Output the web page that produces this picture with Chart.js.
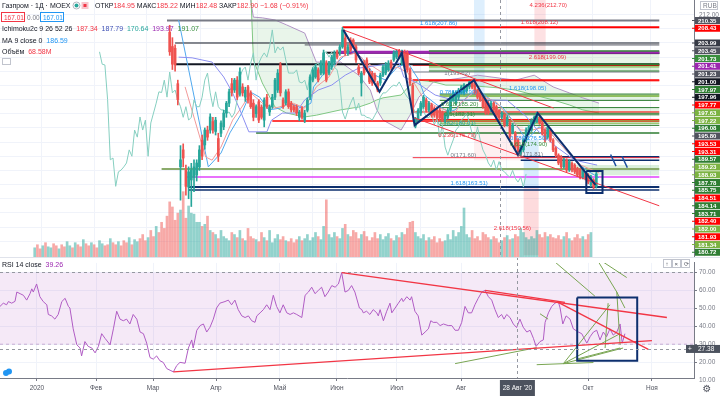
<!DOCTYPE html>
<html>
<head>
<meta charset="utf-8">
<script src="https://cdn.jsdelivr.net/npm/chart.js@4.4.1/dist/chart.umd.min.js"></script>
<style>
  body { margin: 0; background: #fff; width: 720px; height: 397px; overflow: hidden; position: relative; }
  canvas { position: absolute; left: 0; }
  #main { top: 0; }
  #rsi { top: 257px; }
</style>
</head>
<body>
<canvas id="main" width="720" height="257"></canvas>
<canvas id="rsi" width="720" height="140"></canvas>
<script>
const FONT = '"Liberation Sans", Arial, sans-serif';
const UP = "#26a69a";
const DOWN = "#ef5350";
const XMAX = 231.33;

// time axis (bar index -> month label)
const monthIdx = [12.3, 32, 51, 72, 93.3, 112.3, 132.3, 153.7, 196, 217.3];
const monthLbl = ["2020", "Фев", "Мар", "Апр", "Май", "Июн", "Июл", "Авг", "Окт", "Ноя"];
const hoverIdx = 172.3;

// daily candles [open, high, low, close], first one at bar index START
const START = 50;
const candles = [
  [207.0, 209.0, 200.5, 201.5], [203.0, 205.5, 196.5, 198.0], [202.5, 203.5, 196.0, 197.8], [192.5, 193.5, 186.5, 188.0],
  [169.0, 175.0, 159.6, 171.0], [173.8, 175.5, 169.0, 171.5], [168.0, 169.5, 161.0, 163.5], [163.3, 169.0, 160.0, 167.6],
  [165.3, 170.0, 157.8, 168.1], [166.0, 171.0, 162.0, 169.0], [166.7, 171.0, 165.0, 170.1], [169.0, 175.0, 168.0, 173.8],
  [176.5, 178.0, 171.0, 172.0], [175.2, 180.0, 174.0, 179.4], [179.4, 180.5, 176.5, 177.4], [179.4, 184.0, 178.5, 183.1],
  [181.8, 183.0, 178.5, 179.4], [179.0, 183.0, 178.0, 182.2], [177.0, 178.5, 170.5, 172.0], [178.5, 182.0, 177.5, 181.4],
  [180.3, 185.0, 179.5, 184.2], [184.2, 187.5, 183.0, 187.0], [187.0, 191.0, 186.0, 190.2], [192.5, 194.0, 189.0, 190.0],
  [190.7, 194.0, 190.0, 193.5], [193.5, 194.5, 188.0, 188.7], [189.5, 197.0, 189.0, 195.8], [191.6, 192.5, 189.0, 189.9],
  [188.7, 191.5, 187.5, 190.7], [191.6, 192.0, 187.0, 187.9], [189.9, 190.5, 185.5, 186.0], [187.0, 188.0, 182.0, 183.0],
  [184.0, 186.5, 183.0, 186.0], [187.4, 188.0, 181.5, 182.2], [185.9, 186.5, 182.5, 183.0], [182.2, 188.5, 180.3, 187.9],
  [188.7, 189.5, 185.5, 186.0], [184.5, 186.5, 183.5, 186.0], [186.0, 189.5, 185.5, 188.7], [188.7, 194.0, 188.0, 193.5],
  [190.7, 196.5, 190.0, 195.5], [197.8, 198.5, 189.0, 189.9], [187.9, 188.5, 185.5, 186.0], [187.0, 190.8, 186.5, 190.2],
  [190.2, 191.0, 185.5, 186.0], [187.0, 187.5, 184.5, 185.1], [186.0, 186.5, 184.5, 185.1], [186.0, 186.5, 183.5, 184.2],
  [183.0, 185.0, 182.0, 184.5], [185.5, 186.0, 182.5, 183.0], [182.2, 185.0, 181.5, 184.2], [185.0, 188.5, 184.5, 187.9],
  [188.7, 195.0, 188.0, 194.4], [193.5, 197.0, 193.0, 196.4], [194.4, 198.0, 194.0, 197.2], [196.4, 197.0, 193.0, 193.5],
  [195.5, 199.0, 195.0, 198.3], [195.5, 202.0, 195.0, 201.2], [198.3, 199.0, 193.0, 193.5], [195.5, 198.8, 195.0, 198.3],
  [197.2, 200.5, 196.5, 200.0], [198.6, 201.8, 198.0, 201.2], [201.5, 202.0, 199.5, 200.0], [201.2, 203.5, 200.5, 202.9],
  [202.9, 208.4, 202.5, 207.7], [205.4, 206.5, 200.5, 201.2], [201.2, 203.5, 200.5, 202.9], [204.8, 205.5, 201.5, 202.0],
  [204.8, 205.2, 202.5, 202.9], [202.9, 203.5, 198.5, 199.2], [197.2, 198.0, 195.0, 195.5], [192.7, 196.0, 189.0, 195.5],
  [198.3, 199.0, 195.0, 195.5], [199.2, 199.8, 196.0, 196.4], [196.0, 196.8, 192.5, 193.0], [195.5, 196.0, 192.0, 192.7],
  [194.9, 195.5, 193.0, 193.5], [192.7, 193.2, 190.2, 190.7], [192.7, 195.5, 192.0, 194.9], [194.9, 197.8, 194.5, 197.2],
  [195.5, 198.5, 195.0, 197.8], [196.4, 199.0, 196.0, 198.3], [198.6, 199.2, 196.5, 197.0], [199.2, 201.8, 198.8, 201.2],
  [200.0, 202.0, 199.5, 201.5], [201.5, 202.2, 199.5, 200.0], [198.3, 202.0, 197.8, 201.5], [201.2, 202.0, 196.8, 197.2],
  [201.2, 201.8, 195.8, 196.4], [196.4, 197.0, 192.0, 192.7], [192.0, 192.7, 183.8, 184.5], [180.5, 183.0, 180.0, 182.5],
  [182.2, 185.5, 181.5, 185.0], [184.2, 187.5, 183.5, 187.0], [186.0, 189.2, 185.5, 188.7], [187.9, 188.5, 184.5, 185.0],
  [185.0, 187.5, 184.5, 187.0], [186.5, 187.0, 183.0, 183.6], [185.5, 186.0, 183.0, 183.6], [185.0, 185.5, 182.5, 183.0],
  [185.0, 185.5, 182.3, 182.8], [184.2, 184.8, 181.8, 182.2], [182.2, 184.0, 181.5, 183.6], [183.0, 185.5, 182.5, 185.0],
  [185.0, 189.2, 184.5, 188.7], [187.9, 190.5, 187.5, 189.9], [187.0, 190.5, 186.5, 189.9], [188.7, 191.2, 188.0, 190.7],
  [189.9, 192.0, 189.5, 191.6], [189.9, 192.5, 189.3, 192.1], [190.5, 192.3, 190.0, 191.8], [191.6, 193.2, 191.0, 193.0],
  [193.0, 193.6, 191.0, 191.5], [192.7, 193.0, 189.5, 189.9], [190.7, 191.0, 188.2, 188.7], [189.9, 190.3, 187.5, 187.9],
  [188.7, 189.2, 185.5, 186.0], [187.9, 188.3, 183.8, 184.2], [187.0, 187.5, 183.8, 184.2], [185.0, 187.5, 184.5, 187.0],
  [187.0, 187.3, 184.6, 185.0], [186.0, 186.5, 182.6, 183.0], [184.95, 185.22, 182.48, 182.90], [183.0, 184.6, 182.5, 184.2],
  [183.6, 184.0, 180.3, 180.8], [181.0, 183.5, 180.5, 183.0], [181.4, 181.8, 176.8, 177.4], [178.8, 181.3, 178.3, 180.8],
  [178.5, 179.0, 174.0, 174.6], [176.6, 177.0, 172.0, 172.3], [172.6, 175.0, 172.0, 174.6], [173.8, 177.0, 173.3, 176.6],
  [176.6, 180.0, 176.0, 179.4], [178.5, 180.8, 178.0, 180.3], [179.4, 182.6, 179.0, 182.2], [181.4, 183.4, 181.0, 183.0],
  [181.8, 184.5, 181.5, 184.2], [183.0, 183.5, 181.0, 181.4], [181.4, 181.8, 178.0, 178.5], [179.4, 179.8, 176.0, 176.6],
  [177.4, 180.8, 177.0, 180.3], [179.4, 179.8, 176.0, 176.6], [176.6, 177.0, 173.3, 173.8], [174.3, 174.7, 171.8, 172.3],
  [172.3, 172.7, 169.6, 170.1], [171.8, 172.2, 168.5, 169.0], [169.0, 171.4, 168.6, 170.9], [170.9, 171.3, 167.6, 168.1],
  [168.1, 171.0, 167.7, 170.5], [170.0, 170.4, 167.6, 168.1], [169.5, 169.9, 167.1, 167.6], [168.5, 168.9, 166.2, 166.7],
  [168.1, 168.5, 165.6, 166.1], [166.1, 168.4, 165.6, 168.0], [167.2, 167.6, 165.3, 165.8], [166.7, 167.1, 164.2, 164.7],
  [163.9, 166.6, 163.4, 166.1], [165.3, 165.7, 162.8, 163.3], [163.5, 167.5, 163.0, 167.0]
];

// volume in millions from bar index 0, and bar direction for bars before START
const volumes = [
  45, 60, 40, 55, 70, 50, 45, 65, 55, 40, 60, 50, 75, 55, 45, 70, 60, 50, 85, 65,
  55, 70, 60, 45, 80, 65, 55, 60, 90, 70, 60, 75, 55, 80, 70, 95, 60, 85, 75, 90,
  110, 80, 95, 130, 100, 150, 120, 170, 140, 200, 270, 245, 180, 215, 230, 320, 190, 250, 215, 210,
  170, 170, 150, 160, 200, 130, 120, 110, 90, 130, 100, 90, 80, 120, 110, 95, 130, 90, 80, 140,
  100, 90, 85, 75, 120, 95, 80, 130, 70, 90, 110, 85, 100, 80, 75, 90, 70, 85, 100, 80,
  90, 110, 80, 95, 120, 100, 85, 150, 280, 110, 95, 120, 100, 90, 140, 160, 110, 100, 130, 120,
  90, 110, 125, 100, 80, 95, 120, 90, 110, 85, 100, 115, 90, 80, 105, 95, 120, 110, 140, 170,
  175, 120, 100, 90, 110, 80, 95, 85, 100, 70, 90, 75, 80, 110, 85, 130, 100, 120, 150, 240,
  110, 95, 130, 90, 100, 80, 120, 110, 95, 85, 100, 90, 70, 80, 95, 105, 85, 90, 110, 100,
  140, 120, 95, 85, 100, 90, 130, 110, 95, 120, 100, 110, 95, 90, 105, 85, 100, 120, 90, 80,
  95, 110, 90, 100, 85, 110, 120
];
const earlyDir = "udduduuddudduududduddudduuddudduddduduudddudduddd";

// indicator lines: [bar index, price]
const maIdx = [53.3, 64.3, 69, 72.3, 76.7, 80, 83.3, 86.7, 91, 94.3, 99, 102.3, 103.3, 106.7, 112.3, 116.7, 121, 125.7, 130, 134.3, 138.3, 142.3, 144.3, 149, 153.3, 155.7, 160, 164.3, 169, 173.3, 177.7, 182.3, 186.7, 191, 195.7, 200, 204.3, 209];
const maVal = [210.5, 169.0, 172.9, 178.6, 184.2, 190.1, 188.7, 185.1, 185.6, 187.0, 185.6, 187.0, 191.6, 195.0, 198.6, 202.0, 200.0, 195.0, 193.5, 197.2, 198.3, 193.5, 189.3, 186.5, 184.5, 185.1, 188.7, 190.7, 187.9, 185.8, 181.4, 176.6, 180.3, 178.6, 174.6, 170.9, 168.1, 165.9];
const tenkanIdx = [55.7, 63.3, 65.7, 69, 73.3, 76.7, 80, 84.3, 89, 95.7, 100, 104.3, 109, 113.3, 119, 123.3, 129, 134.3, 138.3, 141, 144.3, 150, 155.7, 157.7, 162.3, 166.7, 171, 175.7, 180, 184.3, 189, 193.3, 197.7, 202.3, 209];
const tenkanVal = [191.6, 171.8, 170.9, 174.6, 182.2, 185.9, 189.9, 187.0, 185.6, 187.0, 185.6, 191.6, 194.4, 200.0, 201.2, 198.3, 195.5, 197.2, 195.5, 192.1, 187.9, 185.6, 184.2, 187.0, 189.9, 188.7, 187.3, 183.1, 179.4, 179.4, 180.3, 176.6, 172.9, 169.5, 167.3];
const kijunIdx = [53.3, 58.3, 65.7, 70, 73.3, 76, 79.3, 86, 87.7, 91.7, 96.7, 100, 105, 110, 115, 120, 128.3, 135, 136.7, 141.7, 148.3, 155, 160, 166.7, 175, 181.7, 186.7, 193.3, 200, 208.3];
const kijunVal = [200.0, 199.8, 198.6, 194.4, 189.9, 185.1, 178.9, 178.9, 182.2, 184.2, 184.2, 187.9, 190.7, 192.1, 194.9, 196.9, 197.8, 198.3, 194.4, 192.7, 189.3, 187.9, 187.9, 187.9, 187.8, 183.5, 178.9, 174.6, 170.9, 169.5];
const cloudIdx = [80, 81, 84.3, 89, 93.3, 100, 104.3, 113.3, 120, 124.3, 126.7, 129, 135.7, 139, 142.3, 147.7, 152.3, 158, 164, 172, 178, 185, 192, 198, 203, 209];
const leadA = [219, 199.2, 192.7, 185.9, 184.2, 183.1, 183.6, 185.1, 185.9, 187.0, 187.9, 188.5, 189.3, 192.1, 193.5, 193.0, 192.1, 192.1, 191.8, 191.3, 190.7, 189.3, 187.9, 186.5, 185.1, 184.2];
const leadB = [216.1, 211.3, 211.1, 210.5, 209.1, 206.8, 198.6, 198.6, 194.9, 190.7, 185.1, 182.2, 179.4, 183.6, 188.7, 193.0, 193.5, 194.1, 194.9, 194.1, 193.5, 194.9, 191.6, 189.9, 188.5, 187.0];

// horizontal levels: price, starting bar, colour, width
const hlPrice = [210.35, 208.43, 203.99, 203.45, 201.73, 201.41, 201.23, 201.00, 197.97, 197.96, 197.77, 197.63, 197.22, 196.08, 195.80, 193.53, 193.31, 189.57, 189.23, 188.93, 187.78, 185.75, 184.51, 184.14, 183.71, 182.40, 182.00, 181.93, 181.34, 180.72, 178.60, 171.60, 171.80, 170.90, 168.40, 166.14, 163.30, 162.50];
const hlFrom = [49, 114, 52, 100, 146, 113, 108, 146, 146, 52, 140, 146, 146, 146, 140, 140, 146, 150, 150, 150, 150, 150, 140, 150, 150, 140, 150, 88, 150, 150, 82, 140, 180, 180, 47, 56, 57, 57];
const hlColor = ["#787b86", "#ff0000", "#131722", "#50535e", "#388e3c", "#9c27b0", "#131722", "#131722", "#2e7d32", "#131722", "#ff0000", "#7cb342", "#7cb342", "#2e7d32", "#787b86", "#ff0000", "#ff0000", "#2e7d32", "#7cb342", "#7cb342", "#2e7d32", "#2e7d32", "#ff0000", "#2e7d32", "#2e7d32", "#ff0000", "#7cb342", "#ff0000", "#7cb342", "#2e7d32", "#2e7d32", "#f23645", "#0d2f6e", "#0d2f6e", "#8bab6b", "#e040fb", "#0d2f6e", "#0d2f6e"];
const hlWidth = [2, 2, 1, 1, 1.5, 3, 2, 1, 1.5, 2, 1.5, 1.5, 1, 1, 1, 1.5, 1, 1, 1, 1, 1, 1, 1, 1, 1, 1, 1, 1.5, 1, 1, 1.5, 1, 2, 1.5, 2, 1.5, 2, 1.5];

// price tags on the right scale (first 30 levels)
const tagCount = 30;
const tagBg = ["#50535e", "#ff0000", "#363a45", "#50535e", "#388e3c", "#9c27b0", "#50535e", "#131722", "#2e7d32", "#131722", "#ff0000", "#7cb342", "#7cb342", "#2e7d32", "#50535e", "#ff0000", "#ff0000", "#2e7d32", "#7cb342", "#7cb342", "#2e7d32", "#2e7d32", "#ff0000", "#2e7d32", "#2e7d32", "#ff0000", "#7cb342", "#ff0000", "#7cb342", "#2e7d32"];

// zigzag, trend lines and boxes
const zigIdx = [114.3, 127.7, 136, 140.7, 162.7, 179, 186.3, 207.7];
const zigVal = [207.7, 190.2, 201.2, 180.8, 193.5, 172.4, 184.2, 163.9];
const redTopIdx = [114.3, 192.2], redTopVal = [207.7, 185.6];
const redLowIdx = [140, 231.3], redLowVal = [183.0, 158.0];
const boxIdx = [204.3, 210.3], boxVal = [167.8, 161.6];
const arrowIdx = [[213.3, 215.3], [217.5, 219.5]], arrowVal = [[172.5, 169.2], [172.0, 168.8]];

// shaded zones: from bar, to bar, top price, bottom price, colour
const zoneFrom = [162.7, 185, 181, 181, 162.7, 146, 146, 150, 150, 150, 200];
const zoneTo = [166.7, 189.3, 186.7, 186.7, 181, XMAX, XMAX, XMAX, XMAX, XMAX, XMAX];
const zoneTop = [216.2, 216.2, 176.6, 163.3, 180.8, 201.73, 197.63, 189.57, 185.75, 182.00, 169.5];
const zoneBot = [189.3, 199.2, 163.3, 144.0, 170.9, 197.97, 196.08, 187.78, 183.71, 180.72, 166.6];
const zoneColor = ["rgba(33,150,243,0.15)", "rgba(242,54,69,0.15)", "rgba(33,150,243,0.18)", "rgba(242,54,69,0.18)", "rgba(242,54,69,0.08)",
  "rgba(76,175,80,0.13)", "rgba(76,175,80,0.2)", "rgba(76,175,80,0.15)", "rgba(76,175,80,0.15)", "rgba(76,175,80,0.15)", "rgba(76,175,80,0.2)"];

// fib labels
const fibText = ["4.236(212.70)", "1.618(208.12)", "1.618(207.86)", "2.618(199.09)", "1(193.62)", "1.618(198.05)", "0.786(188.90)", "0.618(185.20)",
  "0.5(182.61)", "0.382(180.01)", "0.236(176.79)", "0(171.60)", "0.786(176.50)", "0.618(174.90)", "1(171.81)", "1.618(163.51)", "2.618(150.56)"];
const fibIdx = [183.3, 180, 142.7, 183, 151.7, 175.7, 150, 150.5, 151.7, 149.5, 149.5, 154, 176, 176, 178.7, 154, 170];
const fibVal = [214.2, 209.4, 209.1, 199.5, 194.9, 190.7, 189.5, 186.0, 183.3, 180.6, 177.4, 171.6, 176.6, 174.9, 171.9, 163.9, 151.2];
const fibColor = ["#f23645", "#f23645", "#2196f3", "#f23645", "#787b86", "#2196f3", "#2196f3", "#388e3c", "#388e3c", "#26a69a", "#f23645", "#787b86",
  "#2196f3", "#388e3c", "#787b86", "#2196f3", "#f23645"];

// RSI (14)
const rsiIdx = [0, 1.1, 2.2, 2.8, 3.9, 5, 5.6, 6.7, 7.8, 8.9, 10, 10.6, 11.1, 12.2, 13.3, 14.4, 15.6, 16.1, 17.2, 18.3, 19.4, 20.6, 21.7, 22.8, 23.3, 24.4, 25.6, 26.7, 27.2, 28.3, 29.4, 30.6, 31.7, 32.8, 33.9, 35, 36.7, 37.8, 38.9, 40, 41.1, 42.2, 43.3, 44.4, 45.6, 46.7, 47.8, 48.9, 50, 51.1, 52.2, 53.3, 54.4, 55.6, 56.7, 57.8, 58.9, 60, 61.7, 62.8, 63.9, 64.4, 65.6, 66.7, 67.8, 68.9, 70, 71.1, 72.2, 73.3, 75, 76.1, 77.2, 78.3, 79.4, 80.6, 81.7, 82.8, 83.9, 85, 85.6, 86.7, 87.8, 88.9, 90, 91.1, 92.2, 93.3, 94.4, 95.6, 96.7, 97.8, 98.9, 100.6, 101.7, 102.8, 103.9, 105, 106.1, 107.2, 108.3, 109.4, 110.6, 111.7, 112.8, 113.9, 115, 116.1, 117.2, 118.3, 119.8, 120.6, 121.1, 122.2, 123.3, 124.4, 125.6, 126.1, 126.7, 127.8, 128.9, 130, 130.6, 131.7, 132.8, 133.9, 134.4, 135.6, 136.7, 137.2, 138.3, 139.4, 140.6, 141.7, 142.8, 143.6, 144.4, 145.6, 146.7, 147.8, 149.4, 150.6, 151.7, 152.8, 153.9, 155, 156.1, 157.2, 158.3, 159.4, 160.6, 161.7, 162.8, 163.9, 165, 166.1, 167.2, 168, 168.9, 170, 171.1, 172.2, 173.3, 174.4, 175.6, 176.7, 177.8, 178.7, 180, 181.1, 181.7, 182.8, 183.9, 185, 186.1, 186.7, 187.6, 188.7, 190, 191.1, 192.8, 193.9, 195.6, 196.7, 197.8, 198.9, 200, 201.1, 202.2, 203.3, 204.4, 205.6, 206.7, 207.4, 208.3];
const rsiVal = [51.1, 52.9, 52, 53.8, 52.9, 53.9, 59.1, 58.2, 57.3, 54.6, 58.2, 60.9, 59.1, 63.6, 56.5, 53.8, 52, 46.6, 45.8, 44, 46.6, 53.8, 55.6, 51.1, 50.2, 38.6, 29.7, 27.9, 23.5, 31.5, 28.8, 27.9, 25.2, 28.8, 35.9, 33.3, 29.7, 38.6, 48.4, 44, 43.1, 44, 41.3, 46.6, 44, 36.8, 35.9, 30.6, 22.6, 21.7, 23.5, 20.8, 19.9, 16.4, 15.5, 14.6, 18.1, 19.9, 19.4, 27.9, 32.4, 27.9, 37.8, 40.4, 41.3, 36.8, 39.5, 44, 50.2, 52.9, 53.8, 54.6, 52, 54.6, 49.3, 45.8, 44.9, 45.8, 43.1, 42.2, 45.8, 47.5, 49.3, 52, 49.3, 57.3, 51.1, 47.5, 52, 47.5, 46.6, 47.5, 46.6, 44.9, 57.3, 59.1, 61.8, 58.2, 60, 61.8, 56.5, 59.1, 62.7, 61.8, 63.6, 69.9, 59.1, 60, 62.7, 59.1, 50.2, 49.3, 47.5, 48.4, 46.6, 49.3, 47.5, 45.8, 49.3, 43.1, 48.4, 52.9, 47.5, 50.2, 52.9, 55.6, 53.8, 56.5, 54.6, 56.5, 48.4, 45.8, 35.1, 36.8, 38.6, 43.1, 42.2, 42.2, 40.4, 41.3, 40.4, 40.4, 37.8, 37.8, 42.2, 51.1, 47.5, 47.5, 52, 55.6, 59.1, 60, 56.5, 54.6, 49.3, 44.9, 46.6, 44, 46.6, 44.9, 41.3, 39.3, 44, 39.5, 36.8, 37.8, 33.3, 28.8, 31.5, 32.4, 42.2, 47.5, 51.1, 52.9, 53.8, 50.2, 41.3, 45.8, 44, 38.6, 36.8, 35.9, 30.6, 34.2, 36.8, 37.8, 32.4, 36.8, 34.2, 38.6, 35.1, 36.8, 41.3, 30.6, 35.9];
const rsiRedIdx = [[113.9, 222.3], [161.7, 188.3], [185.6, 216.1], [57.8, 217.3]];
const rsiRedVal = [[69.9, 44.9], [60.0, 53.3], [53.8, 27.1], [14.6, 32.0]];
const rsiGreenIdx = [[151.7, 178.9], [178.9, 197.8], [187.8, 203.3], [187.8, 206.7], [187.8, 207.7], [192.2, 206.7], [184.2, 198.3], [199.1, 205.6, 208.3], [200, 208.9], [202.7, 201.7], [205.6, 206.7], [180, 182.7]];
const rsiGreenVal = [[19.2, 28.1], [18.6, 19.8], [19.2, 52.0], [19.2, 35.9], [19.2, 27.9], [21.7, 27.9], [77, 56.8], [77, 59.1, 50.2], [77, 67.2], [52.9, 27.9], [59.1, 29.7], [47, 44]];
const rsiBoxIdx = [192.4, 212.4], rsiBoxVal = [56.0, 20.8];

function pts(xs, ys) { return xs.map((v, k) => ({ x: v, y: ys[k] })); }
function lineSet(data, color, width, order, extra) {
  return Object.assign({ type: "line", data, borderColor: color, borderWidth: width, pointRadius: 0, tension: 0, fill: false, order }, extra || {});
}
function isUp(i) {
  const k = i - START;
  if (k >= 0 && k < candles.length) return candles[k][3] >= candles[k][0];
  return earlyDir[i] === "u";
}

// ---------- main pane ----------
const mainSets = [];
zoneFrom.forEach((f, k) => {
  mainSets.push(lineSet(pts([f, zoneTo[k]], [zoneTop[k], zoneTop[k]]), "rgba(0,0,0,0)", 0, 90,
    { fill: { value: zoneBot[k] }, backgroundColor: zoneColor[k] }));
});
mainSets.push(lineSet(pts(cloudIdx, leadA), "#80c783", 1, 80, { fill: "+1", backgroundColor: "rgba(76,175,80,0.12)" }));
mainSets.push(lineSet(pts(cloudIdx, leadB), "#b893cc", 1, 80));
mainSets.push({
  type: "bar", yAxisID: "vol", order: 70, grouped: false, barThickness: 2,
  data: volumes.map((v, i) => ({ x: i, y: v })),
  backgroundColor: volumes.map((v, i) => isUp(i) ? "rgba(38,166,154,0.5)" : "rgba(239,83,80,0.5)")
});
hlPrice.forEach((p, k) => {
  mainSets.push(lineSet(pts([hlFrom[k], XMAX], [p, p]), hlColor[k], hlWidth[k], 50));
});
mainSets.push(lineSet(candles.map((c, k) => ({ x: START + k - 26, y: c[3] })), "#86cfc0", 1, 40));
mainSets.push(lineSet(pts(kijunIdx, kijunVal), "#8c8ff0", 1, 40));
mainSets.push(lineSet(pts(tenkanIdx, tenkanVal), "#f29a9a", 1, 40));
mainSets.push(lineSet(pts(maIdx, maVal), "#4fa8ee", 1, 40));
mainSets.push({
  type: "bar", order: 20, grouped: false, barThickness: 1,
  data: candles.map((c, k) => ({ x: START + k, y: [c[2], c[1]] })),
  backgroundColor: candles.map(c => c[3] >= c[0] ? UP : DOWN)
});
mainSets.push({
  type: "bar", order: 10, grouped: false, barThickness: 2,
  data: candles.map((c, k) => ({ x: START + k, y: [c[0], c[3]] })),
  backgroundColor: candles.map(c => c[3] >= c[0] ? UP : DOWN)
});
mainSets.push(lineSet(pts(redTopIdx, redTopVal), "#f23645", 1, 5));
mainSets.push(lineSet(pts(redLowIdx, redLowVal), "#f23645", 1, 5));
mainSets.push(lineSet(pts(zigIdx, zigVal), "#0d2f6e", 2, 4));
mainSets.push(lineSet(pts([boxIdx[0], boxIdx[1], boxIdx[1], boxIdx[0], boxIdx[0]], [boxVal[0], boxVal[0], boxVal[1], boxVal[1], boxVal[0]]), "#0d2f6e", 2, 4));
arrowIdx.forEach((xs, k) => mainSets.push(lineSet(pts(xs, arrowVal[k]), "#1e4fa0", 1.5, 4)));

function drawParts(ctx, x, y, parts) {
  parts.forEach(([t, c]) => { ctx.fillStyle = c; ctx.fillText(t, x, y); x += ctx.measureText(t).width; });
  return x;
}

const mainOverlay = {
  id: "mainOverlay",
  afterDatasetsDraw(chart) {
    const { ctx, scales: { x } } = chart;
    const px = Math.round(x.getPixelForValue(hoverIdx)) + 0.5;
    ctx.save();
    ctx.strokeStyle = "#9598a1"; ctx.setLineDash([3, 3]); ctx.lineWidth = 1;
    ctx.beginPath(); ctx.moveTo(px, 0); ctx.lineTo(px, 257); ctx.stroke();
    ctx.restore();
  },
  afterDraw(chart) {
    const { ctx, scales: { x, y } } = chart;
    ctx.save();
    // fib labels
    ctx.font = "6px " + FONT;
    ctx.textBaseline = "middle";
    fibText.forEach((t, k) => {
      ctx.fillStyle = fibColor[k];
      ctx.fillText(t, x.getPixelForValue(fibIdx[k]), y.getPixelForValue(fibVal[k]) - 2);
    });
    // legend block
    ctx.font = "7px " + FONT;
    ctx.textBaseline = "alphabetic";
    let ex = drawParts(ctx, 2, 8, [["Газпром · 1Д · MOEX", "#131722"]]);
    ctx.fillStyle = "#26a69a"; ctx.beginPath(); ctx.arc(ex + 6, 5.5, 2, 0, Math.PI * 2); ctx.fill();
    ctx.strokeStyle = "#b2b5be"; ctx.beginPath(); ctx.arc(ex + 6, 5.5, 3.5, 0, Math.PI * 2); ctx.stroke();
    ctx.fillStyle = "#f7c5cc"; ctx.fillRect(ex + 11, 2, 7, 7);
    ctx.fillStyle = "#f23645"; ctx.fillRect(ex + 13, 4, 3, 3);
    drawParts(ctx, 95, 8, [["ОТКР", "#131722"], ["184.95 ", "#f23645"], ["МАКС", "#131722"], ["185.22 ", "#f23645"],
      ["МИН", "#131722"], ["182.48 ", "#f23645"], ["ЗАКР", "#131722"], ["182.90 −1.68 (−0.91%)", "#f23645"]]);
    ctx.lineWidth = 1;
    ctx.fillStyle = "#fff";
    ctx.fillRect(2, 12.5, 22, 9); ctx.fillRect(40, 12.5, 23, 9);
    ctx.strokeStyle = "#f23645"; ctx.strokeRect(1.5, 12.5, 23, 9);
    ctx.strokeStyle = "#2196f3"; ctx.strokeRect(40.5, 12.5, 23, 9);
    ctx.font = "6.5px " + FONT;
    drawParts(ctx, 4, 19.5, [["167.01", "#f23645"]]);
    drawParts(ctx, 27, 19.5, [["0.00", "#787b86"]]);
    drawParts(ctx, 43, 19.5, [["167.01", "#2196f3"]]);
    ctx.font = "7px " + FONT;
    drawParts(ctx, 2, 31, [["Ichimoku2c 9 26 52 26  ", "#131722"], ["187.34  ", "#f23645"], ["187.79  ", "#3f51b5"],
      ["170.64  ", "#26a69a"], ["193.97  ", "#9c27b0"], ["191.07", "#388e3c"]]);
    drawParts(ctx, 2, 43, [["MA 9 close 0  ", "#131722"], ["186.59", "#2196f3"]]);
    drawParts(ctx, 2, 54, [["Объём  ", "#131722"], ["68.58M", "#f23645"]]);
    ctx.strokeStyle = "#c1c4cd"; ctx.strokeRect(2.5, 58.5, 8, 6);
    // right price scale with stacked tags
    ctx.fillStyle = "#fff"; ctx.fillRect(695, 0, 25, 257);
    ctx.font = "6.5px " + FONT;
    ctx.fillStyle = "#787b86"; ctx.fillText("212.00", 699, 17);
    ctx.strokeStyle = "#c1c4cd"; ctx.strokeRect(700.5, 1.5, 17, 8);
    ctx.fillText("RUB", 703, 8);
    let prev = -100;
    ctx.textBaseline = "middle";
    for (let k = 0; k < tagCount; k++) {
      const yy = Math.max(y.getPixelForValue(hlPrice[k]), prev + 7.75);
      prev = yy;
      ctx.fillStyle = tagBg[k];
      ctx.fillRect(695, yy - 3.5, 25, 7);
      ctx.fillRect(692, yy - 0.5, 3, 1);
      ctx.fillStyle = "#fff";
      ctx.font = "bold 6px " + FONT;
      ctx.fillText(hlPrice[k].toFixed(2), 698, yy + 0.5);
    }
    ctx.restore();
  }
};

new Chart(document.getElementById("main"), {
  data: { datasets: mainSets },
  options: {
    responsive: false, animation: false, events: [],
    layout: { padding: 0 },
    plugins: { legend: { display: false }, tooltip: { enabled: false } },
    scales: {
      x: {
        type: "linear", min: 0, max: XMAX,
        ticks: { display: false }, grid: { color: "#f0f3fa", drawTicks: false }, border: { display: false },
        afterBuildTicks: s => { s.ticks = monthIdx.map(v => ({ value: v })); },
        afterFit: s => { s.height = 0; }
      },
      y: {
        position: "right", min: 143.54, max: 216.14,
        ticks: { display: false }, grid: { color: "#f0f3fa", drawTicks: false },
        border: { display: true, color: "#787b86" },
        afterBuildTicks: s => { const t = []; for (let v = 148; v <= 212; v += 4) t.push({ value: v }); s.ticks = t; },
        afterFit: s => { s.width = 26; }
      },
      vol: { display: false, min: 0, max: 1259 }
    }
  },
  plugins: [mainOverlay]
});

// ---------- RSI pane ----------
const rsiSets = [];
rsiSets.push(lineSet(pts([0, XMAX], [70, 70]), "#9598a1", 1, 90,
  { borderDash: [3, 3], fill: { value: 30 }, backgroundColor: "rgba(156,39,176,0.1)" }));
rsiSets.push(lineSet(pts([0, XMAX], [30, 30]), "#c8b3d6", 1, 90, { borderDash: [3, 3] }));
rsiSets.push(lineSet(pts(rsiIdx, rsiVal), "#b05cc4", 1, 30));
rsiRedIdx.forEach((xs, k) => rsiSets.push(lineSet(pts(xs, rsiRedVal[k]), "#f23645", 1.3, 20)));
rsiGreenIdx.forEach((xs, k) => rsiSets.push(lineSet(pts(xs, rsiGreenVal[k]), "#79a552", 1, 20)));
rsiSets.push(lineSet(pts([rsiBoxIdx[0], rsiBoxIdx[1], rsiBoxIdx[1], rsiBoxIdx[0], rsiBoxIdx[0]],
  [rsiBoxVal[0], rsiBoxVal[0], rsiBoxVal[1], rsiBoxVal[1], rsiBoxVal[0]]), "#0d2f6e", 2, 10));

const rsiOverlay = {
  id: "rsiOverlay",
  afterDatasetsDraw(chart) {
    const { ctx, scales: { x, y } } = chart;
    const px = Math.round(x.getPixelForValue(hoverIdx)) + 0.5;
    const py = Math.round(y.getPixelForValue(27.38)) + 0.5;
    ctx.save();
    ctx.strokeStyle = "#9598a1"; ctx.setLineDash([3, 3]); ctx.lineWidth = 1;
    ctx.beginPath(); ctx.moveTo(px, 0); ctx.lineTo(px, chart.chartArea.bottom); ctx.stroke();
    ctx.beginPath(); ctx.moveTo(0, py); ctx.lineTo(chart.chartArea.right, py); ctx.stroke();
    ctx.restore();
  },
  afterDraw(chart) {
    const { ctx, scales: { x, y }, chartArea } = chart;
    ctx.save();
    ctx.fillStyle = "#e0e3eb"; ctx.fillRect(0, 0, 720, 1);
    ctx.font = "7px " + FONT;
    ctx.textBaseline = "alphabetic";
    drawParts(ctx, 2, 10, [["RSI 14 close  ", "#131722"], ["39.26", "#9c27b0"]]);
    // cloud icon
    ctx.fillStyle = "#2196f3";
    ctx.beginPath(); ctx.arc(6, 116, 3, 0, Math.PI * 2); ctx.arc(9, 114.5, 3, 0, Math.PI * 2); ctx.fill();
    // pane buttons
    ctx.strokeStyle = "#c1c4cd"; ctx.fillStyle = "#50535e"; ctx.font = "6px " + FONT;
    ["↑", "×", "⟳"].forEach((t, k) => {
      ctx.strokeRect(663.5 + k * 9, 2.5, 8, 8);
      ctx.fillText(t, 665.5 + k * 9, 9);
    });
    ctx.fillStyle = "#787b86"; ctx.font = "6.5px " + FONT;
    ctx.fillText("10.00", 699, y.getPixelForValue(10) + 2);
    // crosshair tags
    const py = y.getPixelForValue(27.38);
    ctx.fillStyle = "#4c525e";
    ctx.fillRect(686, py - 4, 34, 8);
    ctx.fillStyle = "#fff";
    ctx.fillText("+", 688, py + 2.5);
    ctx.fillText("27.38", 698, py + 2.5);
    const px = x.getPixelForValue(hoverIdx);
    ctx.fillStyle = "#4c525e";
    ctx.fillRect(px - 17, chartArea.bottom + 2, 35, 16);
    ctx.fillStyle = "#fff"; ctx.font = "6.5px " + FONT; ctx.textAlign = "center";
    ctx.fillText("28 Авг '20", px + 0.5, chartArea.bottom + 12);
    ctx.fillStyle = "#50535e"; ctx.font = "10px DejaVu Sans";
    ctx.fillText("⚙", 707, chartArea.bottom + 14);
    ctx.restore();
  }
};

new Chart(document.getElementById("rsi"), {
  data: { datasets: rsiSets },
  options: {
    responsive: false, animation: false, events: [],
    layout: { padding: { top: 1 } },
    plugins: { legend: { display: false }, tooltip: { enabled: false } },
    scales: {
      x: {
        type: "linear", min: 0, max: XMAX,
        grid: { color: "#f0f3fa", tickLength: 3, tickColor: "#787b86" },
        border: { display: true, color: "#787b86" },
        ticks: {
          color: "#50535e", font: { size: 6.5, family: FONT }, padding: 3, maxRotation: 0,
          callback: v => monthLbl[monthIdx.indexOf(v)] || ""
        },
        afterBuildTicks: s => { s.ticks = monthIdx.map(v => ({ value: v })); },
        afterFit: s => { s.height = 19; }
      },
      y: {
        position: "right", min: 11.18, max: 75.35,
        grid: { color: "#f0f3fa", tickLength: 3, tickColor: "#787b86" },
        border: { display: true, color: "#787b86" },
        ticks: { color: "#787b86", font: { size: 6.5, family: FONT }, padding: 2, callback: v => v.toFixed(2) },
        afterBuildTicks: s => { s.ticks = [20, 30, 40, 50, 60, 70].map(v => ({ value: v })); },
        afterFit: s => { s.width = 26; }
      }
    }
  },
  plugins: [rsiOverlay]
});
</script>
</body>
</html>
